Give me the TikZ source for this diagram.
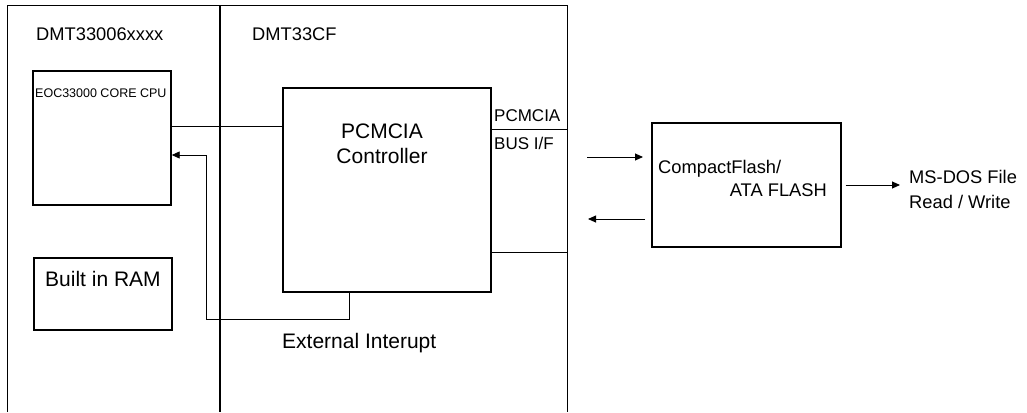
\documentclass[tikz,border=0pt]{standalone}
\usepackage{fontspec}
\setmainfont{Liberation Sans}
\usetikzlibrary{arrows.meta}
\begin{document}
\begin{tikzpicture}[x=1bp,y=-1bp,
  box/.style={draw, line width=1.4bp, inner sep=0pt},
  conn/.style={line width=0.9bp},
  arr/.style={conn, -{Triangle[length=8bp,width=7bp]}},
  txt/.style={inner sep=0pt, anchor=base west},
  txtr/.style={inner sep=0pt, anchor=base east},
  txtc/.style={inner sep=0pt, anchor=base},
  big/.style={font=\fontsize{21bp}{25bp}\selectfont},
  mid/.style={font=\fontsize{18.3bp}{22bp}\selectfont},
  sml/.style={font=\fontsize{17bp}{20bp}\selectfont},
  tiny/.style={font=\fontsize{12.5bp}{15bp}\selectfont}]
\useasboundingbox (0,0) rectangle (1027,412);

% frames
\coordinate (frL) at (7,5);
\coordinate (frR) at (567,5);
\coordinate (div) at (220,5);
\draw[line width=1bp] (frL |- 0,412) -- (frL) -- (frR) -- (frR |- 0,412);
\draw[line width=1.8bp] (div) -- (div |- 0,412);

% titles
\node[txt, mid] (t1) at (36,40.6) {DMT33006xxxx};
\node[txt, mid] (t2) at (252,40.6) {DMT33CF};

% CPU
\node[box, minimum width=138bp, minimum height=134bp] (cpu) at (102,138) {};
\node[txt, tiny] (cput) at (35,97.5) {EOC33000 CORE CPU};

% RAM
\node[box, minimum width=138bp, minimum height=72bp] (ram) at (103,294) {};
\node[txtc, big] (ramt) at (103,286.5) {Built in RAM};

% PCMCIA controller
\node[box, minimum width=208bp, minimum height=204bp] (ctrl) at (387,190) {};
\node[txtc, big] (ctrlA) at (382,138.5) {PCMCIA};
\node[txtc, big] (ctrlB) at (382,163.5) {Controller};

% bus interface
\draw[conn] (ctrl.east |- 0,129) -- (frR |- 0,129);
\draw[conn] (ctrl.east |- 0,252) -- (frR |- 0,252);
\node[txt, sml] (busA) at (494,121) {PCMCIA};
\node[txt, sml] (busB) at (494,149) {BUS I/F};

% CPU <-> controller
\draw[conn] (cpu.east |- 0,126) -- (ctrl.west |- 0,126);
\draw[arr] (ctrl.south -| 349,0) -- (349,319) -- (206,319) -- (206,155) -- (cpu.east |- 0,155);
\node[txt, big] (intt) at (282,348) {External Interupt};

% CompactFlash
\node[box, minimum width=189bp, minimum height=124bp] (cf) at (746.5,185) {};
\node[txt, mid] (cfA) at (658,173.3) {CompactFlash/};
\node[txtr, mid] (cfB) at (827,196.5) {ATA FLASH};

\coordinate (inS) at (587,157);
\coordinate (outS) at (645,219);
\draw[arr] (inS) -- (inS -| 643,0);
\draw[arr] (outS) -- (outS -| 588,0);

% MS-DOS
\node[txt, mid] (msA) at (909,183.3) {MS-DOS File};
\node[txt, mid] (msB) at (909,208.3) {Read / Write};
\draw[arr] ([xshift=4bp]cf.east) -- (cf.east -| 900,0);
\end{tikzpicture}
\end{document}
